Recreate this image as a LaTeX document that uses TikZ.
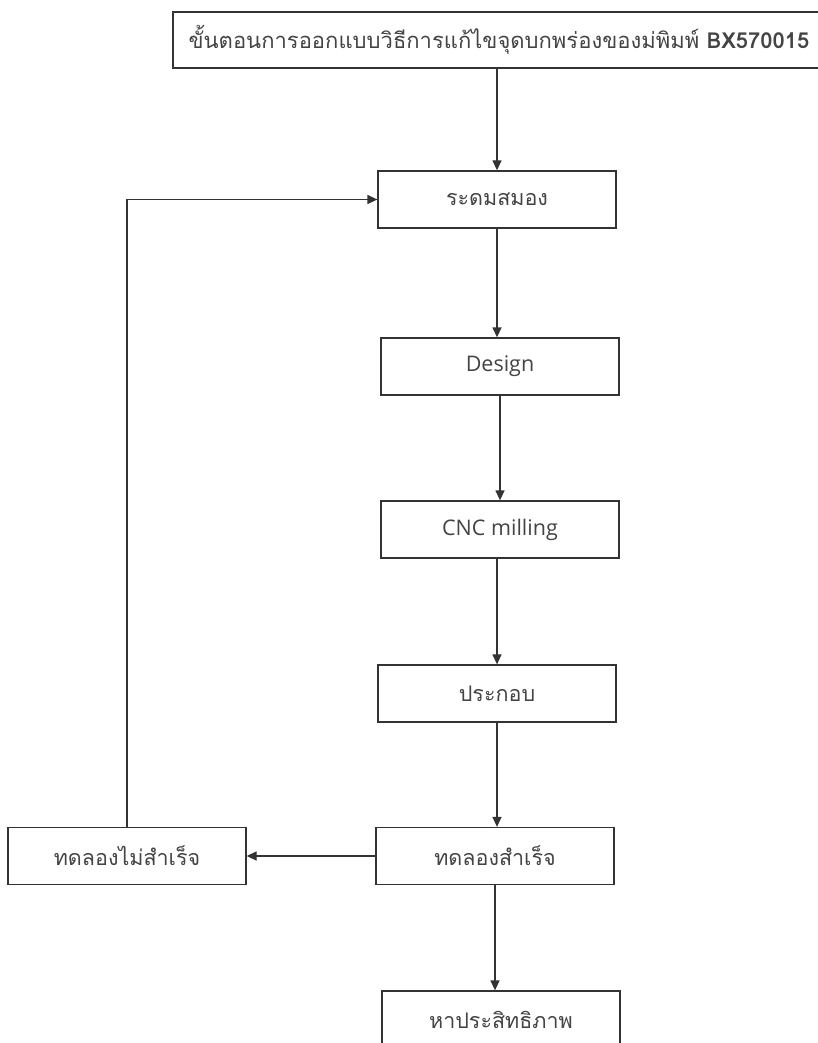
\documentclass[tikz,border=0pt]{standalone}
\usepackage{fontspec}
\setmainfont{Open Sans}
\newfontfamily\thaifont[Script=Thai]{Loma}
\usetikzlibrary{arrows.meta, positioning}

\definecolor{linegray}{HTML}{333333}
\definecolor{textgray}{HTML}{444444}

\begin{document}
\begin{tikzpicture}[x=1pt, y=1pt,
  every node/.style={draw=linegray, line width=1.3pt, text=textgray, font=\fontsize{21.5}{24}\selectfont},
  stepbox/.style={minimum width=238pt, minimum height=57pt, inner sep=0pt},
  flow/.style={-{Triangle[length=10pt,width=9pt]}, draw=linegray, line width=1.3pt}]
  \useasboundingbox (0,0) rectangle (817,-1043);
  \node[minimum width=652pt, minimum height=56pt, inner sep=0pt, font=\fontsize{22}{24}\selectfont] (title) at (499,-40)
    {\thaifont ขั้นตอนการออกแบบวิธีการแก้ไขจุดบกพร่องของม่พิมพ์ \textbf{BX570015}};
  \node[stepbox] (brain)    at (497,-199.5) {\thaifont ระดมสมอง};
  \node[stepbox] (design)   at (500,-366.5) {Design};
  \node[stepbox] (cnc)      at (500,-529.5) {CNC milling};
  \node[stepbox] (assemble) at (497,-693.5) {\thaifont ประกอบ};
  \node[stepbox] (pass)     at (495,-856)   {\thaifont ทดลองสำเร็จ};
  \node[stepbox] (fail)     at (127,-856)   {\thaifont ทดลองไม่สำเร็จ};
  \node[stepbox] (perf)     at (501,-1019.5) {\thaifont หาประสิทธิภาพ};
  % main flow
  \draw[flow] (brain.north |- title.south) -- (brain.north);
  \draw[flow] (brain.south) -- (brain.south |- design.north);
  \draw[flow] (design.south) -- (design.south |- cnc.north);
  \draw[flow] (cnc.south -| assemble) -- (assemble);
  \draw[flow] (assemble) -- (assemble |- pass.north);
  \draw[flow] (pass) -- (perf.north -| pass);
  % retry loop
  \draw[flow] (pass) -- (fail);
  \draw[flow] (fail.north) |- (brain.west);
\end{tikzpicture}
\end{document}
